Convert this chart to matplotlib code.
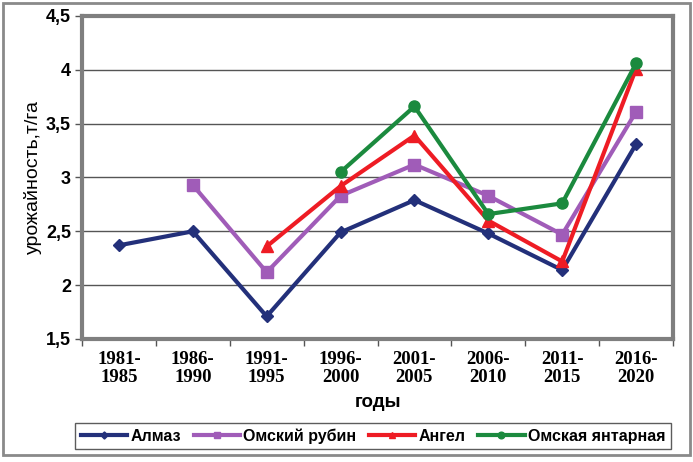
import matplotlib
matplotlib.use("Agg")
import matplotlib.pyplot as plt
import numpy as np
from matplotlib.patches import Rectangle

categories = ["1981-\n1985", "1986-\n1990", "1991-\n1995", "1996-\n2000",
              "2001-\n2005", "2006-\n2010", "2011-\n2015", "2016-\n2020"]
almaz = [2.37, 2.50, 1.71, 2.49, 2.79, 2.48, 2.14, 3.31]
rubin = [None, 2.93, 2.12, 2.83, 3.12, 2.83, 2.47, 3.61]
angel = [None, None, 2.36, 2.92, 3.39, 2.60, 2.22, 4.01]
yantar = [None, None, None, 3.05, 3.66, 2.66, 2.76, 4.06]
series_names = ["Алмаз", "Омский рубин", "Ангел", "Омская янтарная"]
yticks = [1.5, 2, 2.5, 3, 3.5, 4, 4.5]
ytick_labels = ["1,5", "2", "2,5", "3", "3,5", "4", "4,5"]

fig = plt.figure(figsize=(6.93, 4.62), dpi=100)
ax = fig.add_axes([82/693, 1-339/462, (673-82)/693, (339-16)/462])

x = np.arange(len(categories))
def arr(v):
    return np.array([np.nan if a is None else a for a in v], dtype=float)

styles = [
    dict(color="#23307a", marker="D", ms=6),
    dict(color="#a05cb8", marker="s", ms=8),
    dict(color="#ee1c24", marker="^", ms=8),
    dict(color="#1b8a3e", marker="o", ms=8),
]
data = [almaz, rubin, angel, yantar]
for vals, name, st in zip(data, series_names, styles):
    ax.plot(x, arr(vals), color=st["color"], marker=st["marker"], ms=st["ms"],
            lw=3, label=name, zorder=3)

ax.set_xlim(-0.5, len(categories) - 0.5)
ax.set_ylim(1.5, 4.5)
ax.set_yticks(yticks)
ax.set_yticklabels(ytick_labels, fontfamily="Liberation Sans", fontweight="bold", fontsize=13)
ax.set_xticks(x)
ax.set_xticklabels(categories, fontfamily="Liberation Serif", fontweight="bold", fontsize=13.5,
                   linespacing=1.05)
ax.tick_params(axis="x", length=0, pad=9)
ax.set_xticks(np.arange(-0.5, len(categories), 1), minor=True)
ax.tick_params(axis="x", which="minor", length=5, color="#555555", width=1)
ax.tick_params(axis="y", length=5, color="#555555", width=1, pad=3)

for yv in yticks[1:-1]:
    ax.axhline(yv, color="#555555", lw=1, zorder=1)

for s in ax.spines.values():
    s.set_color("#7f7f7f")
    s.set_linewidth(3)

ax.set_ylabel("урожайность,т/га", fontfamily="Liberation Sans", fontsize=14, labelpad=3)
ax.set_xlabel("годы", fontfamily="Liberation Sans", fontweight="bold", fontsize=13.5, labelpad=6)

leg = ax.legend(loc="center", bbox_to_anchor=(373/693, 1-436/462), bbox_transform=fig.transFigure,
                ncol=4, frameon=True, fancybox=False, edgecolor="#333333",
                prop=dict(family="Liberation Sans", weight="bold", size=11.5),
                handlelength=2.9, handletextpad=0.2, columnspacing=0.8, borderpad=0.35,
                markerscale=0.6)
leg.get_frame().set_linewidth(1)

fig.patches.append(Rectangle((3/693, 1-455/462), (690-3)/693, (455-3)/462,
                             transform=fig.transFigure, fill=False,
                             edgecolor="#8a8a8a", lw=2))

fig.savefig("out.png", dpi=100)
